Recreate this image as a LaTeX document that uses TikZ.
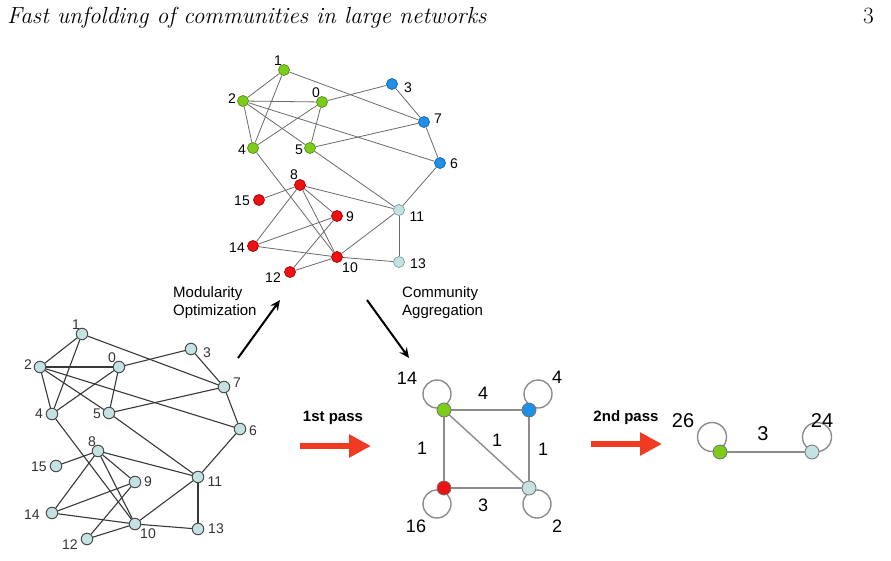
\documentclass[tikz,border=0pt]{standalone}
\usepackage{fontspec}
\setsansfont{Liberation Sans}
\usetikzlibrary{arrows.meta}
\definecolor{cgreen}{HTML}{7DCC1C}
\definecolor{cgreenD}{HTML}{4E8E12}
\definecolor{cblue}{HTML}{1E90E6}
\definecolor{cblueD}{HTML}{1462A8}
\definecolor{cred}{HTML}{EE1111}
\definecolor{credD}{HTML}{A80000}
\definecolor{ccyan}{HTML}{C4E2E2}
\definecolor{ccyanD}{HTML}{7A9E9E}
\definecolor{bedgec}{HTML}{383838}
\definecolor{tedgec}{HTML}{6A6A6A}
\definecolor{aedgec}{HTML}{8C8C8C}
\definecolor{parrow}{HTML}{F03A22}
\tikzset{
  vt/.style={circle, inner sep=0pt, minimum size=11pt, line width=0.7pt},
  gN/.style={vt, fill=cgreen, draw=cgreenD},
  bN/.style={vt, fill=cblue, draw=cblueD},
  rN/.style={vt, fill=cred, draw=credD},
  cN/.style={vt, fill=ccyan, draw=ccyanD},
  lN/.style={circle, inner sep=0pt, minimum size=11.5pt, line width=1pt, fill=ccyan, draw=black!70},
  aN/.style={circle, inner sep=0pt, minimum size=14pt, line width=0.8pt, draw=black!55},
  lab/.style={font=\fontsize{14}{15}\selectfont\sffamily, inner sep=0pt},
  blab/.style={lab, text=black!80},
  alab/.style={font=\fontsize{18}{20}\selectfont\sffamily, inner sep=0pt},
  flab/.style={font=\fontsize{20}{22}\selectfont\sffamily, inner sep=0pt},
  txt/.style={font=\fontsize{15}{18}\selectfont\sffamily, inner sep=0pt, align=left, anchor=west},
  passlab/.style={font=\fontsize{15}{18}\selectfont\sffamily\bfseries, inner sep=0pt},
  tedge/.style={draw=tedgec, line width=0.8pt},
  bedge/.style={draw=bedgec, line width=1.1pt},
  aedge/.style={draw=aedgec, line width=1.4pt},
  passarrow/.style={draw=parrow, line width=6pt, -{Triangle[length=22pt,width=22pt]}},
  stagearrow/.style={draw=black, line width=2pt, -{Stealth[length=10pt,width=9pt]}},
}
\begin{document}
\begin{tikzpicture}[x=1pt,y=-1pt]
\useasboundingbox (0,0) rectangle (891,560);

% header
\node[anchor=base west, inner sep=0pt, font=\fontsize{23.3}{26}\selectfont\itshape] (title) at (7,23) {Fast unfolding of communities in large networks};
\node[anchor=base east, inner sep=0pt, font=\fontsize{23.3}{26}\selectfont] (pg) at (874,23) {3};

% ---------- top graph (communities) ----------
\node[gN] (t0) at (322,102) {};
\node[gN] (t1) at (284,70) {};
\node[gN] (t2) at (243,101) {};
\node[bN] (t3) at (392,84) {};
\node[gN] (t4) at (253,148) {};
\node[gN] (t5) at (310,148) {};
\node[bN] (t6) at (440,163) {};
\node[bN] (t7) at (424,122) {};
\node[rN] (t8) at (300,185) {};
\node[rN] (t9) at (337,216) {};
\node[rN] (t10) at (337,257) {};
\node[cN] (t11) at (399,210) {};
\node[rN] (t12) at (290,272) {};
\node[cN] (t13) at (399,262) {};
\node[rN] (t14) at (253,246) {};
\node[rN] (t15) at (259,200) {};
\foreach \a/\b in {0/2,0/3,0/4,0/5,1/2,1/4,1/7,2/4,2/5,2/6,3/7,4/10,5/7,5/11,6/7,6/11,8/9,8/10,8/11,8/14,8/15,9/12,9/14,10/11,10/12,10/13,10/14,11/13}
  \draw[tedge] (t\a) -- (t\b);
\node[lab] (lt0) at (316,93) {0};
\node[lab] (lt1) at (278,61) {1};
\node[lab] (lt2) at (232,99) {2};
\node[lab] (lt3) at (408,88) {3};
\node[lab] (lt4) at (242,150) {4};
\node[lab] (lt5) at (299,150) {5};
\node[lab] (lt6) at (454,164) {6};
\node[lab] (lt7) at (438,119) {7};
\node[lab] (lt8) at (294,175) {8};
\node[lab] (lt9) at (350,217) {9};
\node[lab] (lt10) at (350,268) {10};
\node[lab] (lt11) at (417,217) {11};
\node[lab] (lt12) at (273,278) {12};
\node[lab] (lt13) at (418,264) {13};
\node[lab] (lt14) at (237,248) {14};
\node[lab] (lt15) at (242,201) {15};

% ---------- bottom-left graph (original) ----------
\node[lN] (b0) at (119,367) {};
\node[lN] (b1) at (82,334) {};
\node[lN] (b2) at (40,367) {};
\node[lN] (b3) at (191,349) {};
\node[lN] (b4) at (52,414) {};
\node[lN] (b5) at (109,413) {};
\node[lN] (b6) at (240,429) {};
\node[lN] (b7) at (224,387) {};
\node[lN] (b8) at (98,451) {};
\node[lN] (b9) at (135,482) {};
\node[lN] (b10) at (135,524) {};
\node[lN] (b11) at (198,477) {};
\node[lN] (b12) at (87,539) {};
\node[lN] (b13) at (198,529) {};
\node[lN] (b14) at (52,513) {};
\node[lN] (b15) at (56,466) {};
\foreach \a/\b in {0/2,0/3,0/4,0/5,1/2,1/4,1/7,2/4,2/5,2/6,3/7,4/10,5/7,5/11,6/7,6/11,8/9,8/10,8/11,8/14,8/15,9/12,9/14,10/11,10/12,10/13,10/14,11/13}
  \draw[bedge] (b\a) -- (b\b);
\node[blab] (lb0) at (112,358) {0};
\node[blab] (lb1) at (76,325) {1};
\node[blab] (lb2) at (28,365) {2};
\node[blab] (lb3) at (207,353) {3};
\node[blab] (lb4) at (39,414) {4};
\node[blab] (lb5) at (97,414) {5};
\node[blab] (lb6) at (253,431) {6};
\node[blab] (lb7) at (237,383) {7};
\node[blab] (lb8) at (92,442) {8};
\node[blab] (lb9) at (148,482) {9};
\node[blab] (lb10) at (148,534) {10};
\node[blab] (lb11) at (215,482) {11};
\node[blab] (lb12) at (70,545) {12};
\node[blab] (lb13) at (216,529) {13};
\node[blab] (lb14) at (32,515) {14};
\node[blab] (lb15) at (39,467) {15};

% ---------- stage arrows ----------
\coordinate (m1) at (238,358);
\coordinate (m2) at (280,300);
\coordinate (c1) at (367,300);
\coordinate (c2) at (409,358);
\draw[stagearrow] (m1) -- (m2);
\draw[stagearrow] (c1) -- (c2);
\node[txt] (modtxt) at (173,303) {Modularity\\Optimization};
\node[txt] (comtxt) at (402,303) {Community\\Aggregation};

% ---------- aggregated graph ----------
\draw[aedge] (437,394) circle[radius=14];
\draw[aedge] (538,394) circle[radius=14];
\draw[aedge] (437,504) circle[radius=14];
\draw[aedge] (537,504) circle[radius=14];
\node[aN, fill=cgreen] (ag) at (444,410) {};
\node[aN, fill=cblue] (ab) at (529,410) {};
\node[aN, fill=cred] (ar) at (444,488) {};
\node[aN, fill=ccyan] (ac) at (529,488) {};
\draw[aedge] (ag) -- (ab);
\draw[aedge] (ag) -- (ar);
\draw[aedge] (ag) -- (ac);
\draw[aedge] (ab) -- (ac);
\draw[aedge] (ar) -- (ac);
\node[alab] (la14) at (407,378) {14};
\node[alab] (la4t) at (483,393) {4};
\node[alab] (la4r) at (557,377) {4};
\node[alab] (la1l) at (422,448) {1};
\node[alab] (la1d) at (497,440) {1};
\node[alab] (la1r) at (543,449) {1};
\node[alab] (la3) at (483,505) {3};
\node[alab] (la16) at (416,526) {16};
\node[alab] (la2) at (557,526) {2};

% ---------- pass arrows ----------
\node[passlab] (p1) at (333,418) {1st pass};
\coordinate (p1a) at (300,446);
\coordinate (p1b) at (371,446);
\draw[passarrow] (p1a) -- (p1b);
\node[passlab] (p2) at (626,418) {2nd pass};
\coordinate (p2a) at (591,444);
\coordinate (p2b) at (662,444);
\draw[passarrow] (p2a) -- (p2b);

% ---------- final graph ----------
\draw[aedge] (712,437) circle[radius=14.5];
\draw[aedge] (817,437) circle[radius=14.5];
\node[aN, fill=cgreen] (fg) at (720,452) {};
\node[aN, fill=ccyan] (fc) at (812,452) {};
\draw[aedge] (fg) -- (fc);
\node[flab] (lf26) at (683,421) {26};
\node[flab] (lf3) at (763,434) {3};
\node[flab] (lf24) at (822,421) {24};
\end{tikzpicture}
\end{document}
